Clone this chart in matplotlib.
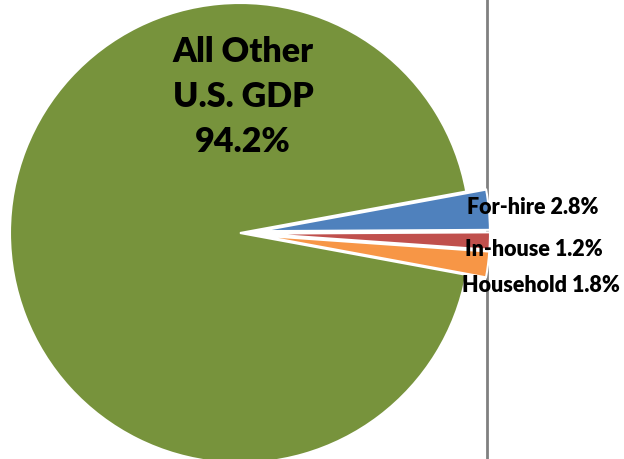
import matplotlib
matplotlib.use("Agg")
import matplotlib.pyplot as plt

labels = ["For-hire", "In-house", "Household", "All Other\nU.S. GDP"]
values = [2.8, 1.2, 1.8, 94.2]
colors = ["#4F81BD", "#C0504D", "#F79646", "#77933C"]
explode = [20, 20, 20, 0]

W, H = 624, 459
fig = plt.figure(figsize=(W / 100, H / 100), dpi=100)
ax = fig.add_axes([0, 0, 1, 1])

# divider line
ax.plot([487, 487], [0, H], color="#808080", lw=2, zorder=0)

wedges, _ = ax.pie(values, colors=colors, explode=explode, startangle=10.4,
                   counterclock=False, center=(240, H - 233), radius=230,
                   wedgeprops=dict(edgecolor="white", linewidth=1.5),
                   normalize=True)
for w in wedges:
    w.set_zorder(2)

ax.set_xlim(0, W)
ax.set_ylim(0, H)
ax.set_aspect("equal")
ax.axis("off")

font = "Lato"
for txt, y in zip(["All Other", "U.S. GDP", f"{values[3]}%"], [52, 97, 142]):
    ax.text(243, H - y, txt, ha="center", va="center",
            fontsize=24.5, fontweight="heavy", family=font, zorder=3)

small_pos = [(533, H - 208), (534, H - 249), (541, H - 286)]
for i, (x, y) in enumerate(small_pos):
    ax.text(x, y, f"{labels[i]} {values[i]}%", ha="center", va="center",
            fontsize=15.5, fontweight="heavy", family=font, zorder=3)

fig.savefig("out.png", dpi=100)
